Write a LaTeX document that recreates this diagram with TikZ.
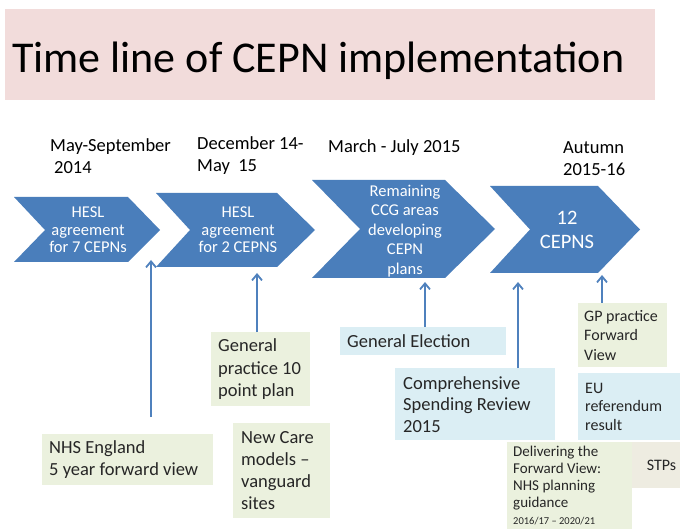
\documentclass[tikz,border=0pt]{standalone}
\usepackage{fontspec}
\setmainfont{Carlito}
\usetikzlibrary{arrows.meta}
\definecolor{cepnblue}{HTML}{4A7EBB}
\definecolor{arrowblue}{HTML}{4F81BD}
\definecolor{titlepink}{HTML}{F2DCDB}
\definecolor{boxgreen}{HTML}{EBF1DE}
\definecolor{boxblue}{HTML}{DBEEF4}
\definecolor{boxbeige}{HTML}{EEECE1}
\begin{document}
\begin{tikzpicture}[x=1pt,y=-1pt,
    chevtext/.style={text=white, align=flush center, inner sep=0pt, font=\fontsize{16.5}{17.5}\selectfont},
    datelabel/.style={anchor=west, align=flush left, inner sep=0pt, font=\fontsize{18.5}{22}\selectfont},
    eventbox/.style={anchor=north west, align=flush left, inner xsep=7pt, inner ysep=0pt, text=black!85,
        font=\fontsize{18.5}{22}\selectfont},
    greenbox/.style={eventbox, fill=boxgreen},
    bluebox/.style={eventbox, fill=boxblue},
    uparrow/.style={draw=arrowblue, line width=1.8pt, -{Straight Barb[length=6pt,width=10pt]}}]
    \useasboundingbox (0,0) rectangle (680,529);

    \fill[titlepink] (5,9) rectangle (655,100);
    \node[anchor=base west, inner sep=0pt, font=\fontsize{44}{50}\selectfont] (title) at (12,73) {Time line of CEPN implementation};

    \fill[cepnblue] (14,197) -- (128,197) -- (160,230) -- (128,262) -- (14,262) -- (45,230) -- cycle;
    \fill[cepnblue] (156,193) -- (277,193) -- (315,230) -- (277,267) -- (156,267) -- (190,230) -- cycle;
    \fill[cepnblue] (312,180) -- (445,180) -- (495,229) -- (445,278) -- (312,278) -- (360,229) -- cycle;
    \fill[cepnblue] (490,186) -- (598,186) -- (640,229.5) -- (598,273) -- (490,273) -- (530,229.5) -- cycle;

    \node[chevtext] (hesl7) at (88,230) {HESL\\agreement\\for 7 CEPNs};
    \node[chevtext] (hesl2) at (238,230) {HESL\\agreement\\for 2 CEPNS};
    \node[chevtext, font=\fontsize{16.5}{19.5}\selectfont] (ccg) at (405,231) {Remaining\\CCG areas\\developing\\CEPN\\plans};
    \node[chevtext, font=\fontsize{20.5}{24}\selectfont] (cepns) at (567,230) {12\\CEPNS};

    \node[datelabel] (may14) at (50,156) {May-September\\\hspace*{4pt}2014};
    \node[datelabel] (dec14) at (197,156) {December 14-\\May\ \ 15};
    \node[datelabel] (mar15) at (328,148) {March - July 2015};
    \node[datelabel] (aut15) at (563,159) {Autumn\\2015-16};

    \node[greenbox, text width=157pt, minimum height=51pt] (nhs) at (42,434) {NHS England\\5 year forward view};
    \node[greenbox, text width=85pt, minimum height=74pt, font=\fontsize{18.5}{22.5}\selectfont] (gp10) at (211,332) {General\\practice 10\\point plan};
    \node[greenbox, text width=81pt, minimum height=95pt, inner xsep=8pt] (ncm) at (233,423) {New Care\\models --\\vanguard\\sites};
    \node[bluebox, text width=152pt, minimum height=28pt] (ge) at (340,327) {General Election};
    \node[bluebox, text width=144pt, minimum height=72pt, inner xsep=8pt, font=\fontsize{18.5}{21.5}\selectfont] (csr) at (395,368) {Comprehensive\\Spending Review\\2015};
    \node[greenbox, text width=77pt, minimum height=64pt, inner xsep=6pt, font=\fontsize{16}{19.5}\selectfont] (gpfv) at (578,303) {GP practice\\Forward\\View};
    \node[bluebox, text width=88pt, minimum height=67pt, font=\fontsize{16}{18.5}\selectfont] (eu) at (578,373) {EU\\referendum\\result};
    \node[greenbox, text width=113pt, minimum height=87pt, inner xsep=6pt, font=\fontsize{15}{17}\selectfont] (dfv) at (507,442) {Delivering the\\Forward View:\\NHS planning\\guidance\\{\fontsize{10.5}{12}\selectfont 2016/17 -- 2020/21}};
    \node[eventbox, fill=boxbeige, align=flush right, text width=40pt, inner xsep=4pt, minimum height=46pt, font=\fontsize{16}{19}\selectfont] (stps) at (632,442) {STPs};

    \coordinate (b1) at (151,417);
    \coordinate (t1) at (151,260);
    \coordinate (t2) at (257,273);
    \coordinate (t3) at (425,282);
    \coordinate (t4) at (518,282);
    \coordinate (t5) at (602,275);

    \draw[uparrow] (b1) -- (t1);
    \draw[uparrow] (gp10.north -| t2) -- (t2);
    \draw[uparrow] (ge.north -| t3) -- (t3);
    \draw[uparrow] (csr.north -| t4) -- (t4);
    \draw[uparrow] (gpfv.north -| t5) -- (t5);
\end{tikzpicture}
\end{document}
